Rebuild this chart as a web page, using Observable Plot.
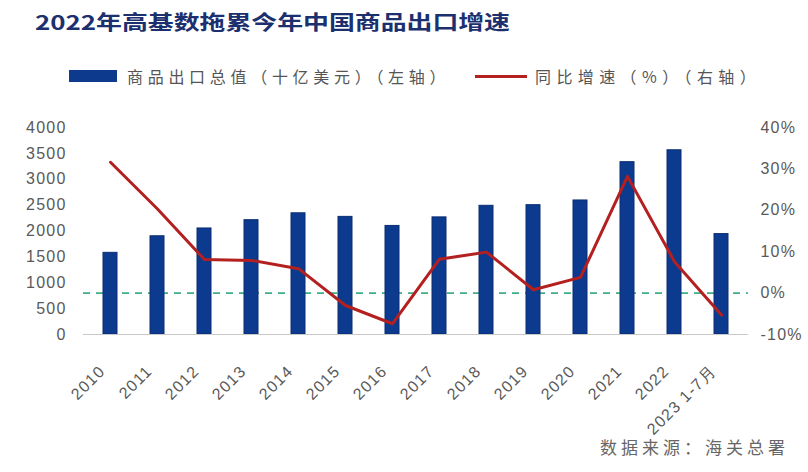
<!DOCTYPE html>
<html>
<head>
<meta charset="utf-8">
<script src="https://cdn.jsdelivr.net/npm/d3@7"></script>
<script src="https://cdn.jsdelivr.net/npm/@observablehq/plot@0.6"></script>
<style>
  body { margin: 0; background: #fff; }
  #wrap { position: relative; width: 808px; height: 472px; overflow: hidden; background: #fff;
          font-family: "Noto Sans CJK SC", "Noto Sans", sans-serif; }
  #title { position: absolute; left: 35px; top: 8px; font-size: 20px; font-weight: 700; color: #1c2f6e;
           white-space: nowrap; line-height: 28px; transform-origin: 0 50%; }
  .legtext { position: absolute; top: 65px; height: 22px; line-height: 22px; font-size: 16px; color: #555;
             white-space: nowrap; }
  .swatch { position: absolute; }
  #source { position: absolute; left: 600px; top: 435px; font-size: 17px; line-height: 24px; color: #666;
            letter-spacing: 4px; white-space: nowrap; }
  #chart { position: absolute; left: 0; top: 100px; }
  #chart svg text { letter-spacing: 1.2px; }
</style>
</head>
<body>
<div id="wrap">
  <div id="title">2022年高基数拖累今年中国商品出口增速</div>
  <div class="swatch" style="left:69px;top:70px;width:48px;height:12px;background:#0d3a8d;"></div>
  <div class="legtext" style="left:127px;letter-spacing:4.7px;">商品出口总值（十亿美元）（左轴）</div>
  <div class="swatch" style="left:475px;top:75px;width:52px;height:3px;background:#b3201f;"></div>
  <div class="legtext" style="left:535px;letter-spacing:5.4px;">同比增速（%）（右轴）</div>
  <div id="chart"></div>
  <div id="source">数据来源：海关总署</div>
</div>
<script>
const categories = ["2010","2011","2012","2013","2014","2015","2016","2017","2018","2019","2020","2021","2022","2023 1-7月"];
const exportValues = [1578, 1898, 2049, 2209, 2342, 2273, 2098, 2263, 2487, 2499, 2590, 3330, 3560, 1940];
const growthRates = [31.6, 20.3, 8.1, 7.9, 5.9, -3.0, -7.4, 8.2, 9.9, 0.8, 3.8, 28.2, 7.6, -5.3];
const leftTicks = [0, 500, 1000, 1500, 2000, 2500, 3000, 3500, 4000];
const rightTicks = [-10, 0, 10, 20, 30, 40];

// right axis (-10%..40%) mapped onto left axis (0..4000)
const toLeft = p => (p + 10) * 80;
const fromLeft = v => v / 80 - 10;

const rows = categories.map((c, i) => ({category: c, exports: exportValues[i], growth: growthRates[i]}));

const chart = Plot.plot({
  width: 808,
  height: 372,
  marginTop: 27,
  marginBottom: 138,
  marginLeft: 83,
  marginRight: 60,
  style: {fontFamily: "'Liberation Sans', Arial, sans-serif", fontSize: "16px", color: "#595959", background: "transparent"},
  x: {type: "band", domain: categories, paddingInner: 0.7, paddingOuter: 0.35, label: null},
  y: {domain: [0, 4000], label: null},
  marks: [
    Plot.ruleY([toLeft(0)], {stroke: "#3fae84", strokeWidth: 1.6, strokeDasharray: "7,6"}),
    Plot.barY(rows, {x: "category", y: "exports", fill: "#0c3a8f", stroke: "#0a2d72", strokeWidth: 1}),
    Plot.ruleY([0], {stroke: "#c9c9c9", strokeWidth: 1}),
    Plot.line(rows, {x: "category", y: d => toLeft(d.growth), stroke: "#b3201f", strokeWidth: 3, strokeLinejoin: "round"}),
    Plot.axisY(leftTicks, {anchor: "left", tickSize: 0, tickPadding: 17, tickFormat: d => String(d), label: null}),
    Plot.axisY(rightTicks.map(toLeft), {anchor: "right", tickSize: 0, tickPadding: 12, tickFormat: v => Math.round(fromLeft(v)) + "%", label: null}),
    Plot.axisX({tickRotate: -45, tickSize: 0, tickPadding: 34, dx: -8, fontSize: 16, label: null})
  ]
});
document.getElementById("chart").appendChild(chart);

// stretch title to the reference's width
const t = document.getElementById("title");
const w = t.getBoundingClientRect().width;
t.style.transform = `scaleX(${475 / w})`;
</script>
</body>
</html>
